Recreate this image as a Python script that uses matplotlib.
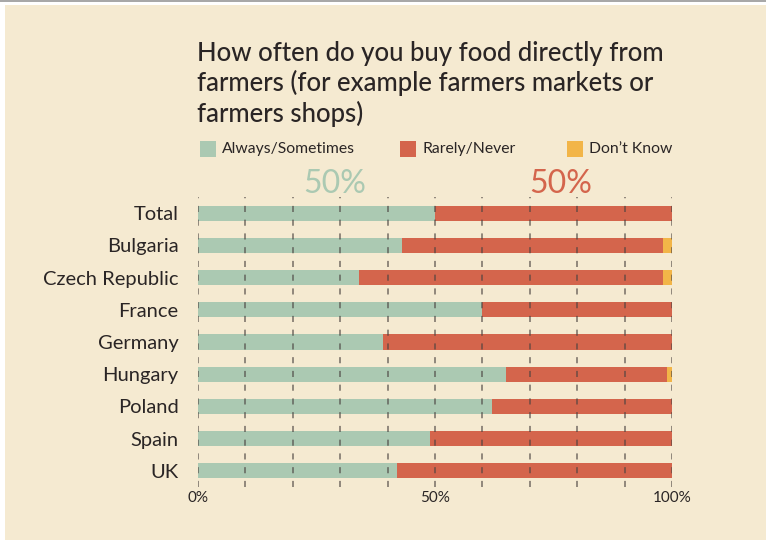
import matplotlib
matplotlib.use("Agg")
import matplotlib.pyplot as plt
import numpy as np

# data
countries = ["Total", "Bulgaria", "Czech Republic", "France", "Germany",
             "Hungary", "Poland", "Spain", "UK"]
always = [50, 43, 34, 60, 39, 65, 62, 49, 42]
rarely = [50, 55, 64, 40, 61, 34, 38, 51, 58]
dont_know = [0, 2, 2, 0, 0, 1, 0, 0, 0]
series_names = ["Always/Sometimes", "Rarely/Never", "Don\u2019t Know"]
headline = ["50%", "50%"]
xticks = [0, 50, 100]
xticklabels = ["0%", "50%", "100%"]

bg = "#F5EAD1"
green = "#ABC9B2"
red = "#D4654C"
yellow = "#F2B548"
dark = "#2A2525"

plt.rcParams["font.family"] = ["Lato", "DejaVu Sans"]

fig = plt.figure(figsize=(7.66, 5.40), dpi=100)
fig.patch.set_facecolor("white")
# cream panel with thin grey top rule
fig.patches.append(plt.Rectangle((5 / 766, 0), 1, 1 - 5 / 540, transform=fig.transFigure,
                                 facecolor=bg, edgecolor="none", zorder=-10))
fig.patches.append(plt.Rectangle((0, 1 - 2 / 540), 1, 2 / 540, transform=fig.transFigure,
                                 facecolor="#A8A8A8", edgecolor="none", zorder=-10))

ax = fig.add_axes([198 / 766, 1 - 487 / 540, 474 / 766, 290 / 540])
ax.set_facecolor("none")

y = np.arange(len(countries))
h = 0.47
always = np.array(always)
rarely = np.array(rarely)
dont_know = np.array(dont_know)
ax.barh(y, always, height=h, color=green, zorder=1)
ax.barh(y, rarely, left=always, height=h, color=red, zorder=1)
ax.barh(y, dont_know, left=always + rarely, height=h, color=yellow, zorder=1)

for gx in range(0, 101, 10):
    ax.axvline(gx, color="#4A4340", alpha=0.75, lw=1.1, ls=(0, (4, 5)), zorder=3)

ax.set_xlim(0, 100)
ax.set_ylim(len(countries) - 0.5, -0.5)
ax.set_yticks(y)
ax.set_yticklabels(countries, fontsize=14.5, color=dark)
ax.set_xticks(xticks)
ax.set_xticklabels(xticklabels, fontsize=11, color=dark)
ax.tick_params(length=0)
ax.tick_params(axis="y", pad=14)
ax.tick_params(axis="x", pad=3)
for s in ax.spines.values():
    s.set_visible(False)

# title
fig.text(197 / 766, 1 - 41 / 540,
         "How often do you buy food directly from\nfarmers (for example farmers markets or\nfarmers shops)",
         fontsize=18.5, color=dark, va="top", ha="left", linespacing=1.2, fontweight="medium")

# legend
leg_x = [200, 400, 567]
for lx, name, c in zip(leg_x, series_names, [green, red, yellow]):
    fig.patches.append(plt.Rectangle((lx / 766, 1 - 157 / 540), 16 / 766, 16 / 540,
                                     transform=fig.transFigure, facecolor=c, edgecolor="none"))
    fig.text((lx + 22) / 766, 1 - 149 / 540, name, fontsize=11.3, color=dark,
             va="center", ha="left")

# big 50% labels
fig.text(335 / 766, 1 - 184 / 540, headline[0], fontsize=23, color=green, ha="center", va="center")
fig.text(561 / 766, 1 - 184 / 540, headline[1], fontsize=23, color=red, ha="center", va="center")

fig.savefig("out.png", dpi=100, facecolor=fig.get_facecolor())
